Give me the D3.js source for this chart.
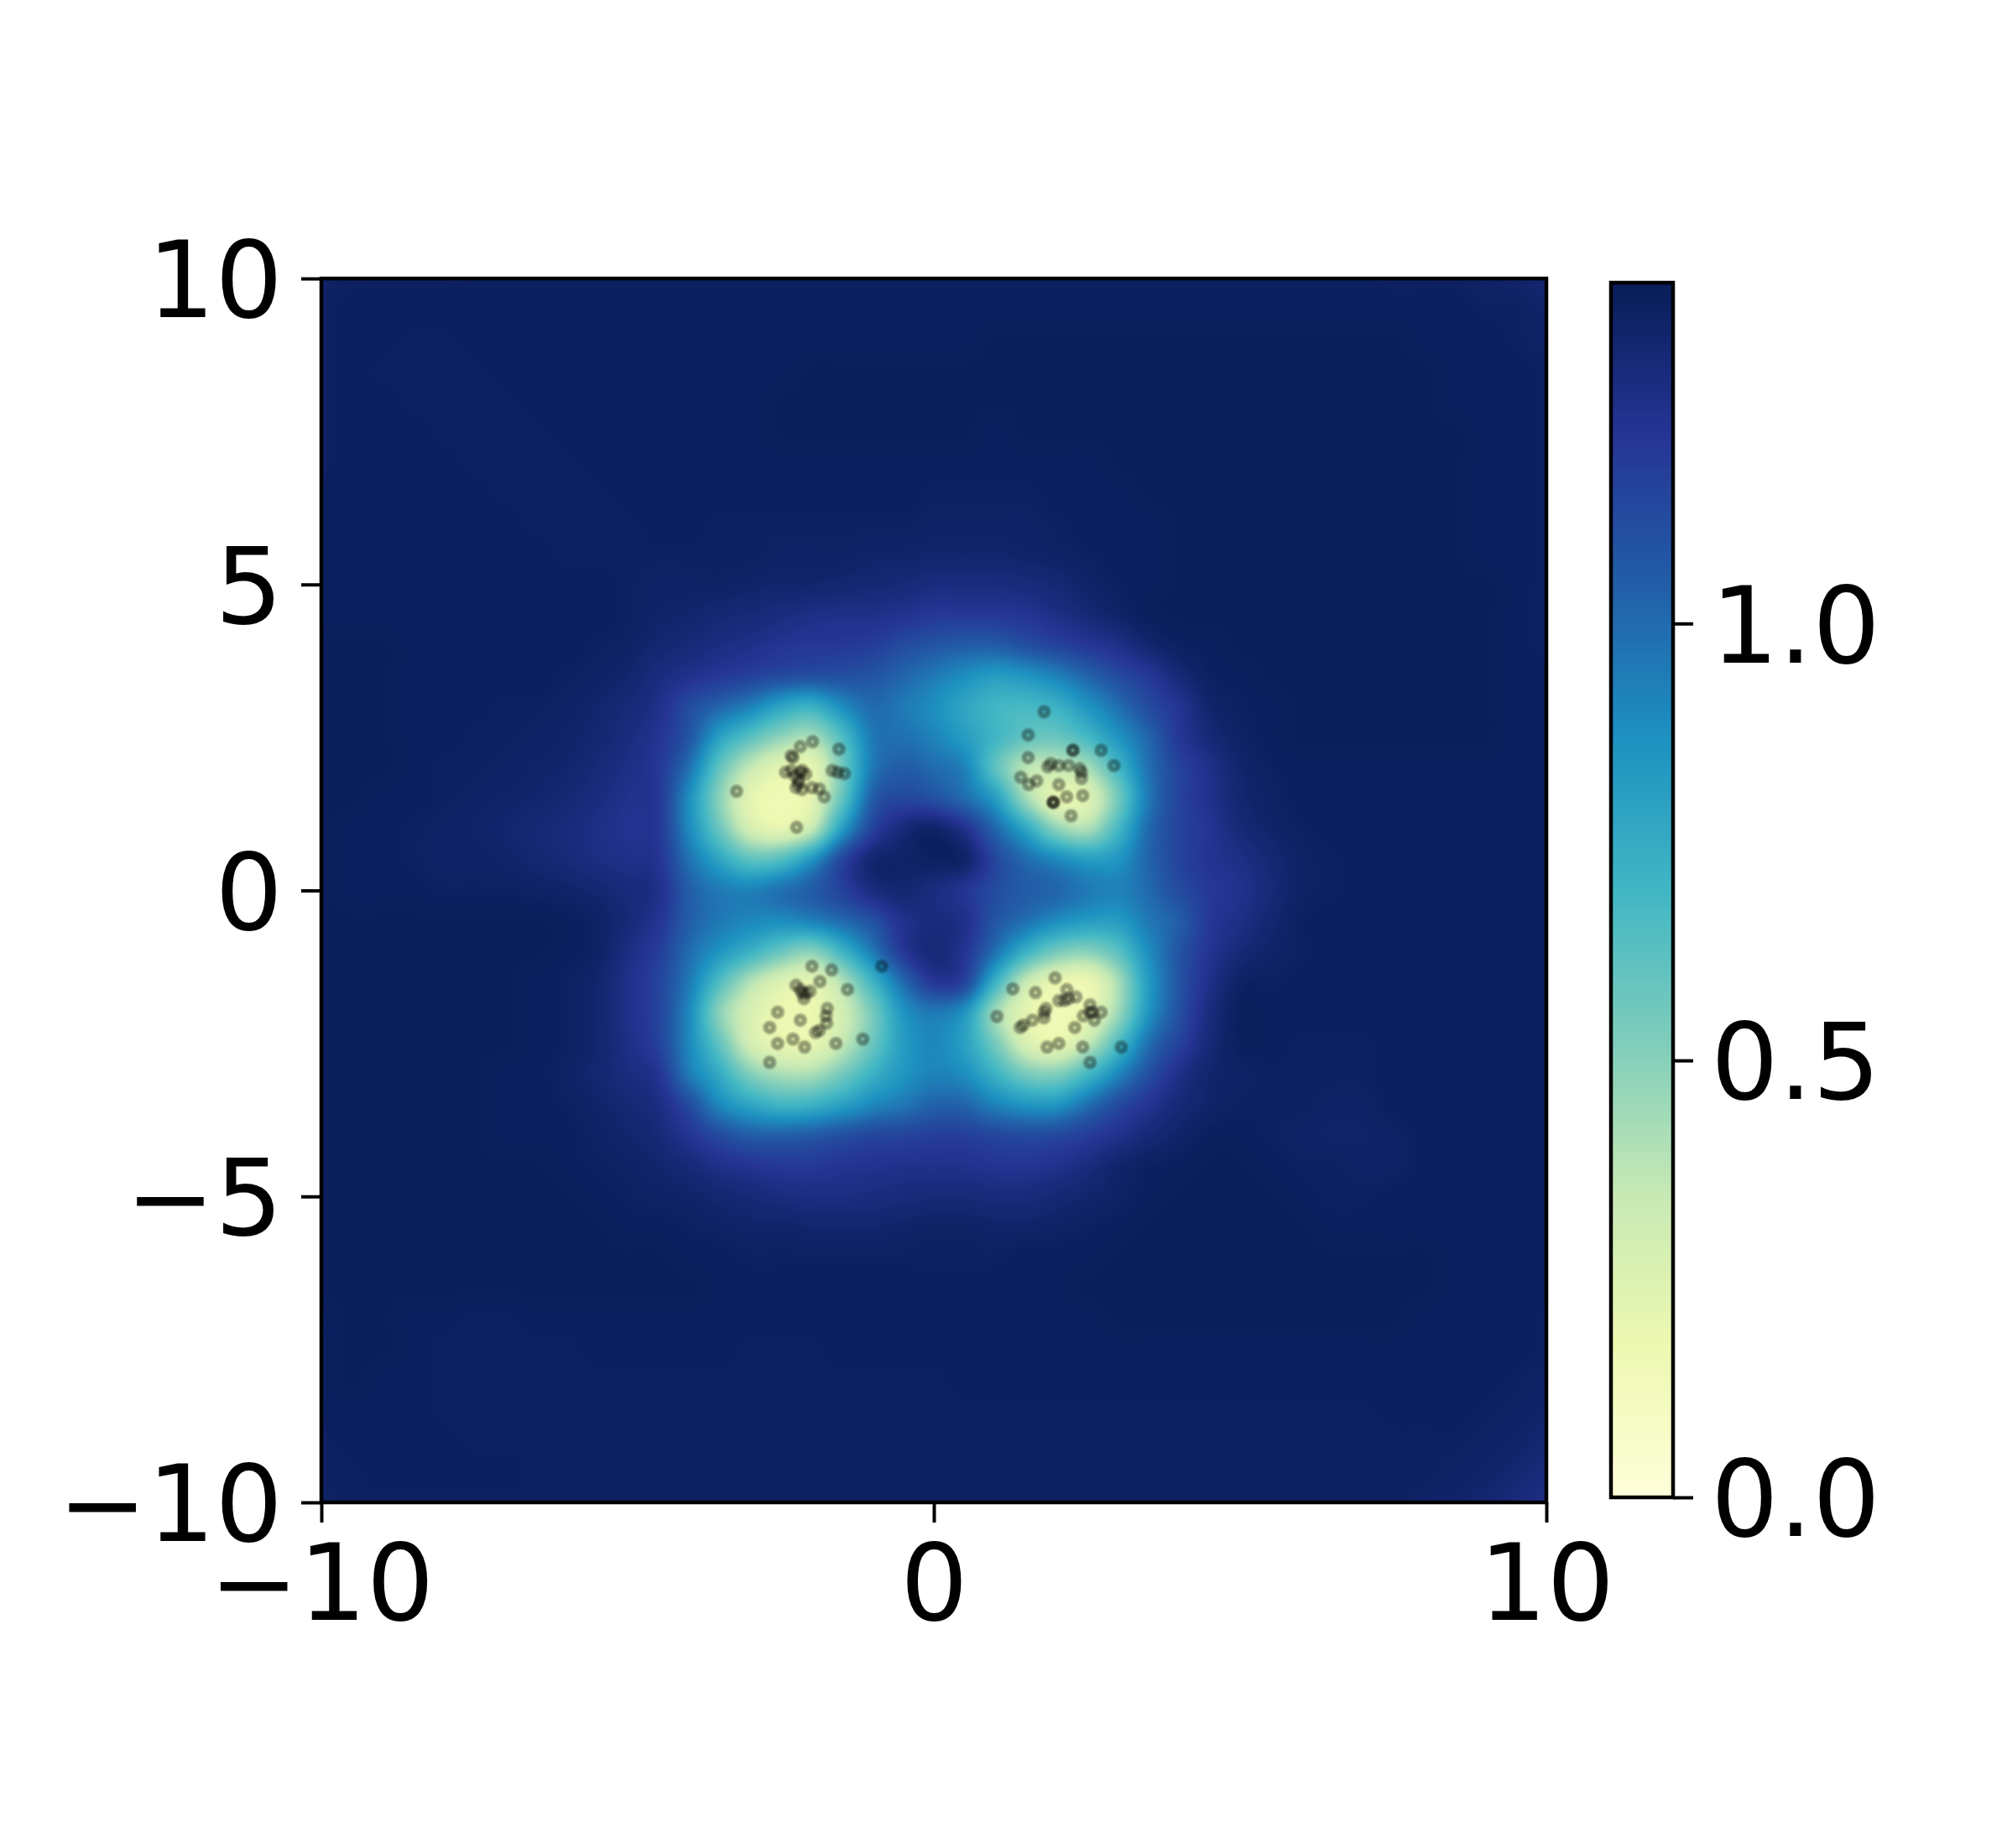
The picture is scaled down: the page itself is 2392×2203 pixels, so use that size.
<!DOCTYPE html>
<html>
<head>
<meta charset="utf-8">
<script src="https://cdn.jsdelivr.net/npm/d3@7"></script>
<style>
  html, body { margin: 0; background: #fff; }
  svg { display: block; filter: blur(0.7px); }
  text { font-family: "DejaVu Sans", sans-serif; fill: #000; }
</style>
</head>
<body>
<script>
// YlGnBu stops, light to dark
const colorStops = ["#ffffd9", "#edf8b1", "#c7e9b4", "#7fcdbb", "#41b6c4", "#1d91c0", "#225ea8", "#253494", "#081d58"];
const vMax = 1.39;
const axisTicks = [-10, -5, 0, 5, 10];
const xTickValues = [-10, 0, 10];
const barTicks = [0, 0.5, 1];

// field values in hundredths, y = 10 down to -10, x = -10 to 10, step 0.5
const fieldRows = [
  [135,136,136,136,136,137,137,137,137,137,137,137,137,137,137,137,137,137,137,137,137,137,137,137,137,137,137,137,137,137,137,137,137,137,137,136,136,136,135,134,132],
  [136,137,137,137,137,137,137,137,137,137,137,137,137,137,137,137,137,137,137,137,137,137,137,137,137,137,137,137,137,137,137,137,137,137,137,137,137,137,136,136,134],
  [136,137,137,136,136,137,137,137,137,137,137,137,137,137,137,137,137,137,137,137,137,137,138,138,138,138,138,138,138,138,138,138,138,138,138,138,137,137,137,136,135],
  [136,137,136,136,136,136,137,137,137,137,137,137,137,137,137,137,138,138,138,138,138,138,138,138,138,138,138,138,138,138,138,138,138,138,138,138,138,137,137,137,136],
  [136,137,137,136,136,136,136,137,137,137,137,137,137,137,137,138,138,138,138,138,138,138,138,138,138,138,138,138,138,138,138,138,138,138,138,138,138,137,137,137,136],
  [136,137,137,137,136,136,136,136,137,137,137,137,137,137,137,138,138,138,138,138,138,138,137,138,138,138,138,138,138,138,138,138,138,138,138,138,138,138,137,137,136],
  [136,137,137,137,137,136,136,136,136,137,137,137,137,137,137,137,137,137,137,137,137,137,137,137,137,137,138,138,138,138,138,138,138,138,138,138,138,138,137,137,136],
  [137,137,137,137,137,137,136,136,136,136,137,137,137,137,137,137,137,137,137,137,136,136,136,136,137,137,137,138,138,138,138,138,138,138,138,138,138,138,137,137,136],
  [137,137,137,137,137,137,137,136,136,136,136,137,137,136,136,136,136,136,136,136,135,135,135,135,136,137,137,137,138,138,138,138,138,138,138,138,138,138,137,137,136],
  [137,137,137,137,137,137,137,137,136,136,136,136,136,136,136,135,135,135,134,134,133,133,133,134,135,136,137,137,138,138,138,138,138,138,138,138,138,138,137,137,136],
  [137,137,137,137,137,137,137,137,137,137,136,135,135,135,134,133,133,132,131,130,128,128,128,129,131,134,136,137,138,138,138,138,138,138,138,138,138,138,138,137,136],
  [137,137,137,137,137,137,137,137,137,137,136,134,133,131,130,128,126,125,125,123,120,120,120,122,126,130,134,137,138,138,138,138,138,138,138,138,138,138,138,137,136],
  [138,138,138,137,137,137,137,137,137,136,135,132,130,127,125,122,120,120,118,112,108,105,105,110,115,120,125,132,136,137,138,138,138,138,138,138,138,138,138,137,136],
  [138,138,138,137,137,137,137,137,136,135,133,128,124,120,116,112,110,110,108,102,95,88,82,85,92,102,112,120,130,136,137,138,138,138,138,138,138,138,138,137,137],
  [138,138,138,137,137,137,136,136,135,133,130,125,112,102,92,78,72,88,100,95,88,78,70,68,72,85,98,112,122,133,136,137,138,138,138,138,138,138,138,137,137],
  [138,138,138,137,137,136,136,135,134,132,128,122,108,80,62,48,42,65,95,98,92,82,70,60,58,68,85,102,120,130,135,137,138,138,138,138,138,138,138,137,137],
  [138,138,138,137,136,136,135,134,133,130,126,120,98,60,35,22,20,55,95,105,100,92,62,38,35,42,68,98,115,125,133,136,137,137,137,137,137,137,137,137,137],
  [138,138,137,137,136,135,134,133,131,128,124,120,88,50,22,16,22,60,105,114,110,100,82,45,22,25,55,95,115,124,132,135,137,137,137,137,137,137,137,137,137],
  [138,137,137,136,135,134,133,131,129,126,123,120,90,58,30,22,35,82,116,130,134,124,102,78,50,42,68,100,115,122,130,134,136,137,137,137,137,137,137,137,137],
  [138,137,137,136,135,135,134,132,130,127,125,122,98,78,62,65,85,114,132,134,136,134,114,100,90,82,85,102,115,122,126,131,135,136,137,137,137,137,137,137,137],
  [138,137,137,137,136,136,136,135,134,132,129,125,105,95,92,98,105,116,128,132,128,122,112,105,102,95,92,100,112,120,124,130,135,136,137,137,137,137,137,137,137],
  [138,138,138,138,138,138,138,138,137,135,130,122,105,95,90,88,92,100,110,124,128,125,108,98,88,82,82,95,105,120,126,132,136,137,137,137,137,137,137,137,137],
  [138,138,138,138,138,138,138,138,137,135,127,118,100,85,72,58,50,70,95,120,130,122,98,72,55,50,62,88,108,122,130,134,136,137,137,137,137,137,137,137,137],
  [138,138,138,138,138,138,138,137,136,133,125,115,95,65,40,26,22,40,70,100,120,115,72,35,20,18,42,82,108,125,135,136,137,137,137,137,137,137,137,137,137],
  [138,138,138,138,138,138,138,137,136,133,125,115,90,50,28,18,18,30,55,85,95,85,45,22,15,20,45,85,110,128,137,137,137,137,137,137,137,137,137,137,137],
  [138,138,138,138,138,138,138,137,136,133,126,116,90,60,30,20,20,35,58,82,90,80,55,28,20,35,65,98,116,130,137,137,136,136,136,137,137,137,137,137,137],
  [138,138,138,138,138,138,137,137,135,132,128,122,95,75,52,42,42,55,72,85,92,88,72,55,52,68,90,110,125,133,135,136,136,136,136,137,137,137,137,137,137],
  [138,138,138,138,138,138,137,137,136,134,131,127,112,90,78,70,72,80,90,96,103,102,92,85,85,98,112,122,130,134,136,136,136,135,135,137,137,137,137,137,137],
  [138,138,138,138,138,138,137,137,137,135,133,130,122,112,105,104,106,110,114,115,117,117,114,112,113,118,124,130,134,137,137,136,135,134,134,135,137,137,137,137,137],
  [138,138,138,138,138,138,138,138,137,136,135,133,130,125,122,120,120,122,123,124,124,124,122,122,124,128,133,136,137,138,138,137,136,136,135,135,137,137,137,137,137],
  [138,138,138,138,138,138,138,138,138,137,136,135,134,132,130,128,127,127,128,129,130,130,129,129,131,133,135,137,138,138,138,138,137,136,136,137,137,137,137,137,137],
  [138,138,138,138,138,138,138,138,138,138,137,137,136,135,134,134,133,133,133,134,135,135,134,134,135,136,137,138,138,138,138,138,138,137,137,137,137,137,137,137,137],
  [138,138,138,138,138,138,138,138,138,138,138,138,137,137,136,136,136,136,136,136,136,136,136,137,137,137,138,138,138,138,138,138,138,138,138,138,138,137,137,137,137],
  [138,138,138,138,138,138,138,138,138,138,138,138,138,137,137,137,137,137,137,137,137,137,137,137,137,138,138,138,138,138,138,138,138,138,138,138,138,137,137,137,137],
  [137,138,138,137,137,136,136,137,137,137,137,137,137,137,137,137,137,137,137,137,137,137,137,137,137,137,138,138,138,138,138,138,138,138,138,138,137,137,137,137,136],
  [137,138,138,137,136,136,136,136,136,137,137,137,137,137,136,136,136,137,137,137,137,137,137,137,137,137,137,137,137,137,137,137,137,137,137,137,137,137,137,137,136],
  [137,138,137,137,136,136,136,136,136,136,136,136,136,136,136,136,136,136,136,136,136,137,137,137,137,137,137,137,137,137,137,137,137,137,137,137,137,137,137,136,135],
  [137,137,137,137,136,136,136,136,136,136,136,136,136,136,136,136,136,136,136,136,136,136,136,136,136,136,136,136,136,136,136,136,136,136,136,137,137,137,136,135,134],
  [136,137,137,137,137,136,136,136,136,136,136,136,136,136,136,136,136,136,136,136,136,136,136,136,136,136,136,136,136,136,136,136,136,136,136,136,136,136,135,134,132],
  [136,136,137,137,137,137,137,136,136,136,136,136,136,136,136,136,136,136,136,136,136,136,136,136,136,136,136,136,136,136,136,136,136,136,136,136,136,135,134,132,129],
  [135,136,136,136,136,136,136,136,136,136,136,136,136,136,136,136,136,136,136,136,136,136,136,136,136,136,136,136,136,136,136,136,136,136,136,136,135,134,132,129,126]
];

// scatter points, read cluster by cluster
const pointsX = [
  -3.22,-2.24,-1.79,-1.87,-1.99,-2.15,-2.25,-2.21,-2.27,-2.18,-2.15,-2.42,-2.33,-2.21,-2.30,-2.33,-2.18,-1.98,-1.55,-1.66,-1.57,-1.46,-2.09,
  1.80,1.54,1.54,2.27,2.27,2.73,2.94,1.86,1.91,2.04,2.20,2.38,2.41,2.41,1.42,1.55,1.68,2.04,2.43,2.17,1.95,1.95,1.95,2.24,
  -0.85,-1.99,-1.67,-1.86,-2.25,-1.41,-2.09,-2.15,-2.02,-2.12,-2.18,-1.74,-1.76,-2.55,-2.18,-1.75,-2.68,-1.87,-1.93,-2.30,-2.55,-2.11,-1.60,-1.16,-2.68,
  1.98,1.29,1.66,2.17,2.32,2.13,2.04,2.20,1.83,1.80,1.03,1.80,1.61,1.46,1.41,2.55,2.55,2.59,2.73,2.44,2.62,2.30,2.04,1.85,2.43,3.06,2.55
];
const pointsY = [
  1.62,1.03,1.53,1.66,1.68,1.65,1.68,1.74,1.87,1.93,1.96,1.93,1.96,1.80,2.17,2.20,2.35,2.43,2.31,1.96,1.93,1.91,1.90,
  2.92,2.54,2.17,2.29,2.29,2.29,2.04,2.02,2.07,2.04,2.04,1.99,1.93,1.83,1.85,1.73,1.79,1.73,1.55,1.53,1.44,1.44,1.44,1.22,
  -1.24,-1.24,-1.30,-1.49,-1.55,-1.62,-1.68,-1.68,-1.65,-1.77,-1.62,-1.93,-2.05,-1.99,-2.12,-2.17,-2.24,-2.29,-2.32,-2.43,-2.50,-2.56,-2.50,-2.43,-2.81,
  -1.43,-1.61,-1.67,-1.62,-1.74,-1.80,-1.80,-1.77,-1.93,-1.99,-2.06,-2.08,-2.12,-2.20,-2.24,-1.87,-1.99,-1.99,-1.99,-2.05,-2.12,-2.24,-2.50,-2.56,-2.56,-2.56,-2.81
];

const width = 2392, height = 2203;
const plot = {left: 383, right: 1843, top: 332, bottom: 1791};
const bar = {left: 1920, right: 1994, top: 337, bottom: 1785};
const fontSize = 127;

const svg = d3.select("body").append("svg")
  .attr("width", width)
  .attr("height", height);

const x = d3.scaleLinear().domain([-10, 10]).range([plot.left, plot.right]);
const y = d3.scaleLinear().domain([-10, 10]).range([plot.bottom, plot.top]);
const color = d3.scaleLinear()
  .domain(colorStops.map((c, i) => i / (colorStops.length - 1) * vMax))
  .range(colorStops)
  .clamp(true);

// bicubic lookup, same idea as imshow(interpolation="bicubic")
const cubic = (a, b, c, d, t) =>
  b + 0.5 * t * (c - a + t * (2 * a - 5 * b + 4 * c - d + t * (3 * (b - c) + d - a)));
const at = (r, c) => {
  const row = fieldRows[Math.max(0, Math.min(fieldRows.length - 1, r))];
  return row[Math.max(0, Math.min(row.length - 1, c))] / 100;
};
const fieldValue = (vx, vy) => {
  const fc = (vx + 10) / 0.5, fr = (10 - vy) / 0.5;
  const c = Math.floor(fc), r = Math.floor(fr);
  const rows = [-1, 0, 1, 2].map(i =>
    cubic(at(r + i, c - 1), at(r + i, c), at(r + i, c + 1), at(r + i, c + 2), fc - c));
  return cubic(rows[0], rows[1], rows[2], rows[3], fr - r);
};

// paint the heatmap into a canvas, then hand it to the svg as an image
const w = plot.right - plot.left, h = plot.bottom - plot.top;
const canvas = document.createElement("canvas");
canvas.width = w;
canvas.height = h;
const ctx = canvas.getContext("2d");
const img = ctx.createImageData(w, h);
for (let j = 0; j < h; j++) {
  for (let i = 0; i < w; i++) {
    const c = d3.rgb(color(fieldValue(x.invert(plot.left + i + 0.5), y.invert(plot.top + j + 0.5))));
    const k = (j * w + i) * 4;
    img.data[k] = c.r;
    img.data[k + 1] = c.g;
    img.data[k + 2] = c.b;
    img.data[k + 3] = 255;
  }
}
ctx.putImageData(img, 0, 0);

svg.append("image")
  .attr("x", plot.left)
  .attr("y", plot.top)
  .attr("width", w)
  .attr("height", h)
  .attr("href", canvas.toDataURL());

// scatter
svg.append("g")
  .style("filter", "blur(1.2px)")
  .selectAll("circle")
  .data(pointsX.map((px, i) => [px, pointsY[i]]))
  .join("circle")
    .attr("cx", d => x(d[0]))
    .attr("cy", d => y(d[1]))
    .attr("r", 5)
    .attr("fill", "#000")
    .attr("fill-opacity", 0.08)
    .attr("stroke", "#000")
    .attr("stroke-opacity", 0.34)
    .attr("stroke-width", 6);

// axes
const fmt = d => d3.format("d")(d).replace("-", "\u2212");
const styleAxis = g => {
  g.selectAll(".domain").remove();
  g.selectAll("line").attr("stroke", "#000").attr("stroke-width", 4);
  g.selectAll("text").attr("font-size", fontSize);
};
svg.append("g")
  .attr("transform", `translate(${plot.left},0)`)
  .call(d3.axisLeft(y).tickValues(axisTicks).tickFormat(fmt).tickSize(24).tickPadding(22))
  .call(styleAxis)
  .selectAll("text").attr("dy", "0.36em");
svg.append("g")
  .attr("transform", `translate(0,${plot.bottom})`)
  .call(d3.axisBottom(x).tickValues(xTickValues).tickFormat(fmt).tickSize(24).tickPadding(23))
  .call(styleAxis)
  .selectAll("text").attr("dy", "0.73em");

svg.append("rect")
  .attr("x", plot.left)
  .attr("y", plot.top)
  .attr("width", w)
  .attr("height", h)
  .attr("fill", "none")
  .attr("stroke", "#000")
  .attr("stroke-width", 4.5);

// colorbar
const yBar = d3.scaleLinear().domain([0, vMax]).range([bar.bottom, bar.top]);
svg.append("g")
  .selectAll("rect")
  .data(d3.range(bar.top, bar.bottom))
  .join("rect")
    .attr("x", bar.left)
    .attr("y", d => d)
    .attr("width", bar.right - bar.left)
    .attr("height", 1.5)
    .attr("fill", d => color(yBar.invert(d + 0.5)));
svg.append("rect")
  .attr("x", bar.left)
  .attr("y", bar.top)
  .attr("width", bar.right - bar.left)
  .attr("height", bar.bottom - bar.top)
  .attr("fill", "none")
  .attr("stroke", "#000")
  .attr("stroke-width", 4.5);
svg.append("g")
  .attr("transform", `translate(${bar.right},0)`)
  .call(d3.axisRight(yBar).tickValues(barTicks).tickFormat(d3.format(".1f")).tickSize(24).tickPadding(21))
  .call(styleAxis)
  .selectAll("text").attr("dy", "0.36em");
</script>
</body>
</html>
